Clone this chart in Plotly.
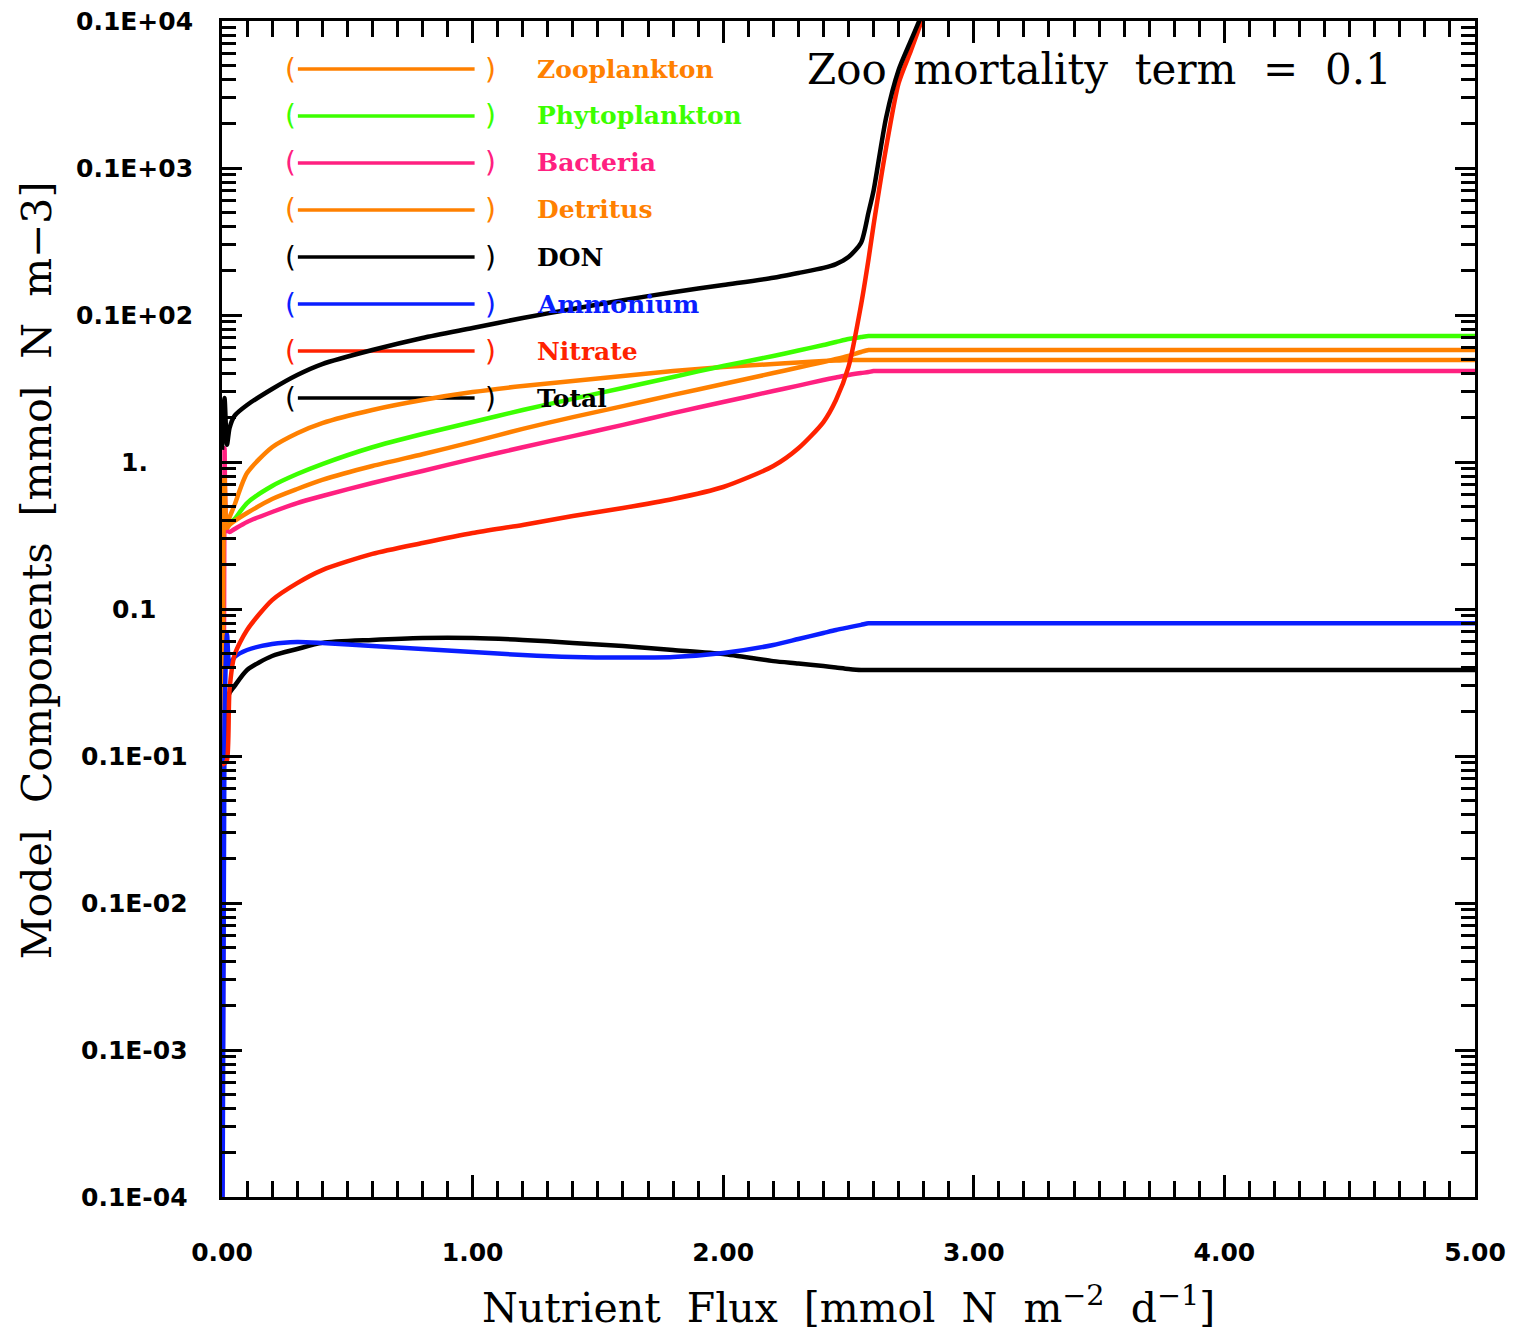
import math
import plotly.graph_objects as go

# ---- data: nutrient flux grid and steady-state model components ----
flux = [0, 0.01, 0.02, 0.03, 0.05, 0.1, 0.2, 0.3, 0.4, 0.6, 0.8, 1.0, 1.2, 1.4,
        1.6, 1.8, 2.0, 2.2, 2.3, 2.4, 2.45, 2.5, 2.55, 2.58, 2.6, 2.65, 2.7,
        2.75, 2.8, 2.85, 5.0]

zooplankton = [1e-6, 0.344, 0.36, 0.42, 0.51, 0.841, 1.26, 1.57, 1.84, 2.26,
               2.64, 2.99, 3.29, 3.56, 3.85, 4.16, 4.43, 4.64, 4.75, 4.86,
               4.90, 4.94, 4.94, 4.94, 4.94, 4.94, 4.94, 4.94, 4.94, 4.94, 4.94]

phytoplankton = [0.072, 0.344, 0.356, 0.379, 0.409, 0.526, 0.687, 0.828, 0.968,
                 1.26, 1.55, 1.87, 2.26, 2.69, 3.19, 3.79, 4.50, 5.26, 5.74,
                 6.25, 6.55, 6.87, 7.08, 7.2, 7.2, 7.2, 7.2, 7.2, 7.2, 7.2, 7.2]

bacteria = [1e-6, 1.24, 0.344, 0.334, 0.350, 0.391, 0.457, 0.526, 0.587, 0.720,
            0.869, 1.05, 1.26, 1.50, 1.79, 2.15, 2.56, 3.04, 3.31, 3.61, 3.76,
            3.91, 4.03, 4.09, 4.16, 4.16, 4.16, 4.16, 4.16, 4.16, 4.16]

detritus = [1e-6, 0.778, 0.356, 0.373, 0.397, 0.450, 0.560, 0.655, 0.755, 0.939,
            1.13, 1.37, 1.68, 2.02, 2.40, 2.86, 3.39, 4.03, 4.39, 4.79, 5.02,
            5.26, 5.60, 5.78, 5.78, 5.78, 5.78, 5.78, 5.78, 5.78, 5.78]

don = [0.00587, 0.01285, 0.0240, 0.0268, 0.0299, 0.0385, 0.0479, 0.0534, 0.0588,
       0.0616, 0.0635, 0.0635, 0.0616, 0.0588, 0.0560, 0.0526, 0.0494, 0.0442,
       0.0426, 0.0409, 0.0400, 0.0391, 0.0385, 0.0385, 0.0385, 0.0385, 0.0385,
       0.0385, 0.0385, 0.0385, 0.0385]

ammonium = [1e-6, 0.0176, 0.0676, 0.0416, 0.0471, 0.0526, 0.0578, 0.0597, 0.0588,
            0.0560, 0.0534, 0.0510, 0.0486, 0.0471, 0.0467, 0.0471, 0.0502,
            0.0569, 0.0625, 0.0687, 0.0720, 0.0750, 0.0780, 0.080, 0.080, 0.080,
            0.080, 0.080, 0.080, 0.080, 0.080]

nitrate = [0.0087, 0.0089, 0.0094, 0.0281, 0.0486, 0.0720, 0.115, 0.150, 0.184,
           0.237, 0.281, 0.329, 0.373, 0.429, 0.486, 0.560, 0.676, 0.939, 1.24,
           1.87, 2.64, 4.43, 11.7, 24.0, 40.9, 137, 378, 635, 1099, 2000, None]

total = [1.21, 2.72, 1.31, 1.70, 2.06, 2.44, 3.14, 3.91, 4.64, 5.78, 6.98, 8.16,
         9.55, 11.0, 12.6, 14.3, 16.0, 17.9, 19.3, 20.9, 22.2, 24.8, 31.0, 50.0,
         70.0, 220, 464, 743, 1188, 2100, None]

series_names = ["Zooplankton", "Phytoplankton", "Bacteria", "Detritus",
                "DON", "Ammonium", "Nitrate", "Total"]
series_values = [zooplankton, phytoplankton, bacteria, detritus,
                 don, ammonium, nitrate, total]
series_colors = ["#FF8000", "#3CFF00", "#FF2080", "#FF8000",
                 "#000000", "#0A1EFF", "#FF2200", "#000000"]

x_major = [0, 1, 2, 3, 4, 5]
x_tick_text = ["0.00", "1.00", "2.00", "3.00", "4.00", "5.00"]
y_major = [1e-5, 1e-4, 1e-3, 1e-2, 1e-1, 1, 10, 100, 1000]
y_tick_text = ["0.1E-04", "0.1E-03", "0.1E-02", "0.1E-01", "0.1", "1.",
               "0.1E+02", "0.1E+03", "0.1E+04"]
y_minor = [m * 10.0 ** e for e in range(-5, 3) for m in range(2, 10)]

# ---- page geometry (pixels) ----
W, H = 1518, 1336
ML, MR, MT, MB = 222, 41, 21, 139
PW, PH = W - ML - MR, H - MT - MB


def px_x(px):
    return (px - ML) / PW


def px_y(py):
    return (H - MB - py) / PH


fig = go.Figure()
for name, vals, color in zip(series_names, series_values, series_colors):
    fig.add_trace(go.Scatter(x=flux, y=vals, mode="lines", name=name,
                             line=dict(color=color, width=4.5,
                                       shape="spline", smoothing=0.7),
                             connectgaps=False, showlegend=False,
                             hoverinfo="skip"))

tick_font = dict(family="DejaVu Sans", size=25, color="black", weight="bold")
serif = "DejaVu Serif"

fig.update_layout(
    width=W, height=H,
    margin=dict(l=ML, r=MR, t=MT, b=MB, pad=0),
    paper_bgcolor="white", plot_bgcolor="white",
    showlegend=False,
)

fig.update_xaxes(
    range=[0, 5], tickmode="array", tickvals=x_major, ticktext=x_tick_text,
    ticks="inside", ticklen=22, tickwidth=3, tickcolor="black",
    showline=True, linewidth=3, linecolor="black", mirror="ticks",
    showgrid=False, zeroline=False, tickfont=tick_font,
    ticklabelstandoff=31,
    minor=dict(dtick=0.1, tick0=0, ticks="inside", ticklen=16, tickwidth=3,
               tickcolor="black", showgrid=False),
)

fig.update_yaxes(
    type="log", range=[-5, 3], tickmode="array", tickvals=y_major,
    showticklabels=False,
    ticks="inside", ticklen=20, tickwidth=3, tickcolor="black",
    showline=True, linewidth=3, linecolor="black", mirror="ticks",
    showgrid=False, zeroline=False,
    minor=dict(tickmode="array", tickvals=y_minor, ticks="inside", ticklen=14,
               tickwidth=3, tickcolor="black", showgrid=False),
)

annotations = []
# y tick labels, centred in the left margin
for v, txt in zip(y_major, y_tick_text):
    annotations.append(dict(x=px_x(134), xref="paper", y=math.log10(v), yref="y",
                            text=txt, showarrow=False, xanchor="center",
                            yanchor="middle", font=tick_font))

sp = " \u00a0"
# axis titles
annotations.append(dict(
    x=0.5, xref="paper", y=px_y(1305), yref="paper",
    text=f"Nutrient{sp}Flux{sp}[mmol{sp}N{sp}m<sup>\u22122</sup>{sp}d<sup>\u22121</sup>]",
    showarrow=False, xanchor="center", yanchor="middle",
    font=dict(family=serif, size=41, color="black")))
annotations.append(dict(
    x=px_x(37), xref="paper", y=px_y(570), yref="paper",
    text=f"Model{sp}Components{sp}[mmol{sp}N{sp}m\u22123]", textangle=-90,
    showarrow=False, xanchor="center", yanchor="middle",
    font=dict(family=serif, size=41, color="black")))
# panel title
annotations.append(dict(
    x=px_x(1101), xref="paper", y=px_y(70), yref="paper",
    text=f"Zoo{sp}mortality{sp}term{sp}={sp}0.1",
    showarrow=False, xanchor="center", yanchor="middle",
    font=dict(family=serif, size=42, color="black")))

# in-panel key: ( ---- )  Name
shapes = []
for i, (name, color) in enumerate(zip(series_names, series_colors)):
    yk = px_y(69 + 47 * i)
    shapes.append(dict(type="line", xref="paper", yref="paper",
                       x0=px_x(298), x1=px_x(475), y0=yk, y1=yk,
                       line=dict(color=color, width=3.5), layer="below"))
    for ch, xc in (("(", 291), (")", 491)):
        annotations.append(dict(x=px_x(xc), xref="paper", y=yk, yref="paper",
                                text=ch, showarrow=False, xanchor="center",
                                yanchor="middle",
                                font=dict(family="DejaVu Sans", size=28,
                                          color=color)))
    annotations.append(dict(x=px_x(536), xref="paper", y=yk, yref="paper",
                            text=name, showarrow=False, xanchor="left",
                            yanchor="middle",
                            font=dict(family=serif, size=25, color=color,
                                      weight="bold")))

fig.update_layout(annotations=annotations, shapes=shapes)

fig.write_html("out.html")
